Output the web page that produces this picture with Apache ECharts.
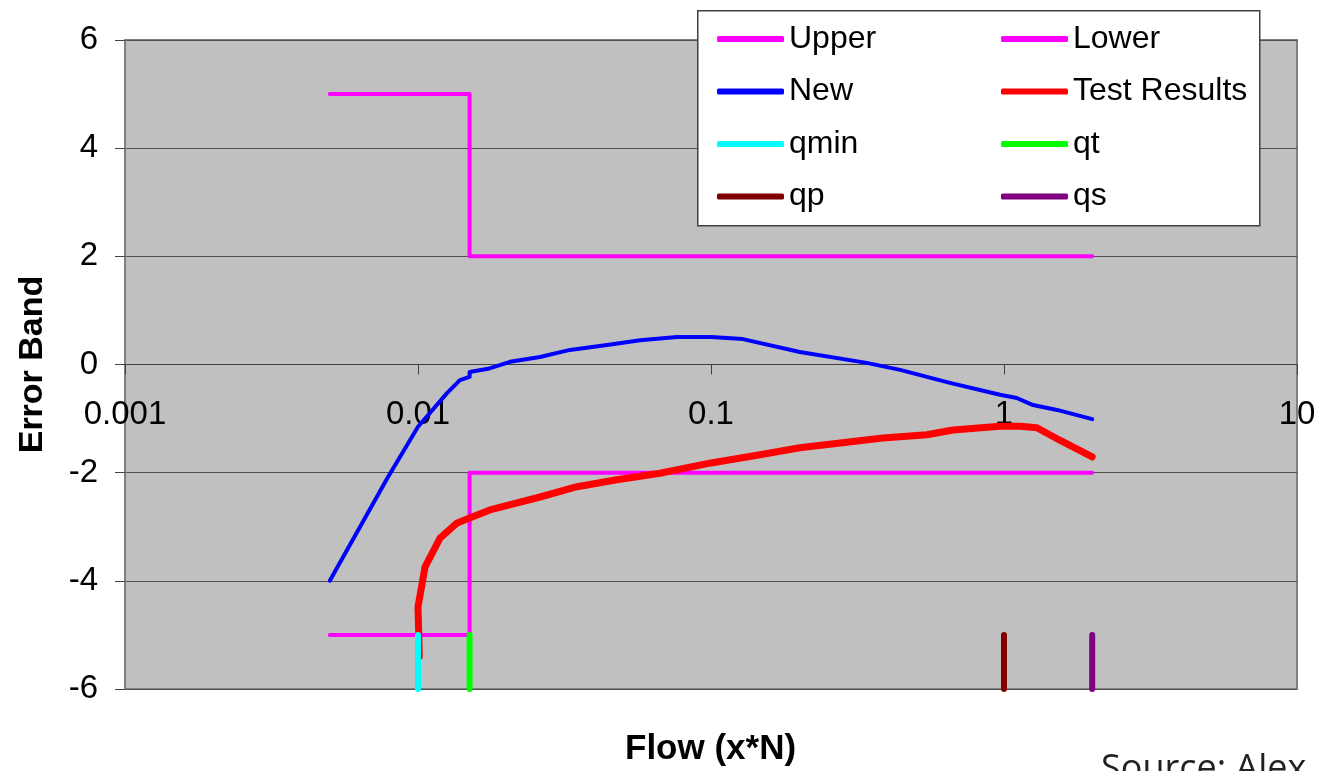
<!DOCTYPE html>
<html>
<head>
<meta charset="utf-8">
<script src="https://cdn.jsdelivr.net/npm/echarts@6/dist/echarts.min.js"></script>
<style>
html,body{margin:0;padding:0;background:#fff;}
#chart{width:1321px;height:771px;}
</style>
</head>
<body>
<div id="chart"></div>
<script>
// ---- data ----
var xTickLabels = ['0.001', '0.01', '0.1', '1', '10'];
var yTicks = [-6, -4, -2, 0, 2, 4, 6];

var upperX = [0.005, 0.015, 0.015, 2];
var upperY = [5, 5, 2, 2];
var lowerX = [0.005, 0.015, 0.015, 2];
var lowerY = [-5, -5, -2, -2];

var newX = [0.005, 0.0079, 0.00868, 0.01, 0.01256, 0.0139, 0.0150, 0.0150, 0.01733, 0.0206, 0.0261, 0.033, 0.0442, 0.0573, 0.0766, 0.1, 0.1285, 0.201, 0.34, 0.442, 0.654, 0.969, 1.106, 1.256, 1.517, 2.0];
var newY = [-4.0, -2.08, -1.71, -1.15, -0.53, -0.29, -0.23, -0.14, -0.08, 0.05, 0.14, 0.27, 0.36, 0.45, 0.51, 0.51, 0.47, 0.23, 0.03, -0.10, -0.34, -0.56, -0.62, -0.75, -0.84, -1.01];

var testX = [0.0101, 0.0100, 0.01057, 0.01189, 0.0136, 0.015, 0.0176, 0.0261, 0.0349, 0.0477, 0.067, 0.1, 0.147, 0.201, 0.386, 0.546, 0.67, 0.969, 1.135, 1.296, 1.55, 2.0];
var testY = [-5.4, -4.48, -3.74, -3.21, -2.93, -2.84, -2.69, -2.45, -2.26, -2.13, -2.01, -1.82, -1.67, -1.54, -1.36, -1.30, -1.21, -1.14, -1.14, -1.17, -1.40, -1.71];

var qminX = [0.01, 0.01];   var qminY = [-6, -5];
var qtX = [0.015, 0.015];   var qtY = [-6, -5];
var qpX = [1, 1];           var qpY = [-6, -5];
var qsX = [2, 2];           var qsY = [-6, -5];

function pairs(xs, ys) { return xs.map(function (x, i) { return [x, ys[i]]; }); }

var chart = echarts.init(document.getElementById('chart'), null, {renderer: 'canvas'});

function line(name, xs, ys, color, width, z) {
  return {
    name: name, type: 'line', data: pairs(xs, ys),
    showSymbol: false, symbol: 'none', animation: false, z: z || 2,
    lineStyle: {color: color, width: width, cap: 'round', join: 'round'},
    itemStyle: {color: color}
  };
}

var legendText = {fontFamily: 'Liberation Sans, Arial, sans-serif', fontSize: 32, color: '#000', lineHeight: 34};

var gridTop = 40, gridBottom = 82, chartH = 771;
var plotH = chartH - gridTop - gridBottom;

var option = {
  backgroundColor: '#ffffff',
  animation: false,
  grid: {
    left: 125, right: 24, top: gridTop, bottom: gridBottom,
    containLabel: false, outerBoundsMode: 'none',
    show: true, backgroundColor: '#c0c0c0', borderColor: '#808080', borderWidth: 2
  },
  xAxis: {
    type: 'log', logBase: 10, min: 0.001, max: 10,
    position: 'bottom',
    offset: -plotH / 2,
    axisLine: {show: true, onZero: false, lineStyle: {color: '#404040', width: 1}},
    axisTick: {show: true, inside: false, length: 10, lineStyle: {color: '#404040'}},
    splitLine: {show: false},
    minorTick: {show: false},
    axisLabel: {
      margin: 34, fontFamily: 'Liberation Sans, Arial, sans-serif', fontSize: 33, color: '#000',
      hideOverlap: false,
      formatter: function (v) {
        var i = Math.round(Math.log10(v)) + 3;
        return xTickLabels[i] !== undefined ? xTickLabels[i] : '';
      }
    }
  },
  yAxis: {
    type: 'value', min: yTicks[0], max: yTicks[yTicks.length - 1], interval: 2,
    name: 'Error Band', nameLocation: 'middle', nameGap: 75, nameRotate: 90,
    nameTextStyle: {fontFamily: 'Liberation Sans, Arial, sans-serif', fontWeight: 'bold', fontSize: 34, color: '#000'},
    axisLine: {show: true, onZero: false, lineStyle: {color: '#808080', width: 2}},
    axisTick: {show: true, length: 10, lineStyle: {color: '#404040'}},
    splitLine: {show: true, lineStyle: {color: '#505050', width: 1}},
    axisLabel: {margin: 27, fontFamily: 'Liberation Sans, Arial, sans-serif', fontSize: 33, color: '#000'}
  },
  legend: [
    {
      data: ['Upper', 'New', 'qmin', 'qp'], orient: 'vertical', left: 712, top: 17,
      icon: 'roundRect', itemWidth: 67, itemHeight: 6, itemGap: 18.5, z: 20, textStyle: legendText
    },
    {
      data: ['Lower', 'Test Results', 'qt', 'qs'], orient: 'vertical', left: 996, top: 17,
      icon: 'roundRect', itemWidth: 67, itemHeight: 6, itemGap: 18.5, z: 20, textStyle: legendText
    }
  ],
  graphic: [
    {type: 'rect', left: 697, top: 10, z: 15, shape: {width: 562, height: 215},
      style: {fill: '#ffffff', stroke: '#404040', lineWidth: 1.5}},
    {type: 'text', left: 625, top: 732, z: 15,
      style: {text: 'Flow (x*N)', fontFamily: 'Liberation Sans, Arial, sans-serif', fontWeight: 'bold', fontSize: 35, fill: '#000'}},
    {type: 'text', left: 1101, top: 752, z: 15,
      style: {text: 'Source: Alex', fontFamily: 'Open Sans, sans-serif', fontSize: 36, fill: '#222'}}
  ],
  series: [
    line('Upper', upperX, upperY, '#ff00ff', 4, 3),
    line('Lower', lowerX, lowerY, '#ff00ff', 4, 3),
    line('New', newX, newY, '#0000ff', 4, 4),
    line('Test Results', testX, testY, '#ff0000', 7, 4),
    line('qmin', qminX, qminY, '#00ffff', 6, 5),
    line('qt', qtX, qtY, '#00ff00', 6, 5),
    line('qp', qpX, qpY, '#800000', 6, 5),
    line('qs', qsX, qsY, '#800080', 6, 5)
  ]
};
chart.setOption(option);
</script>
</body>
</html>
